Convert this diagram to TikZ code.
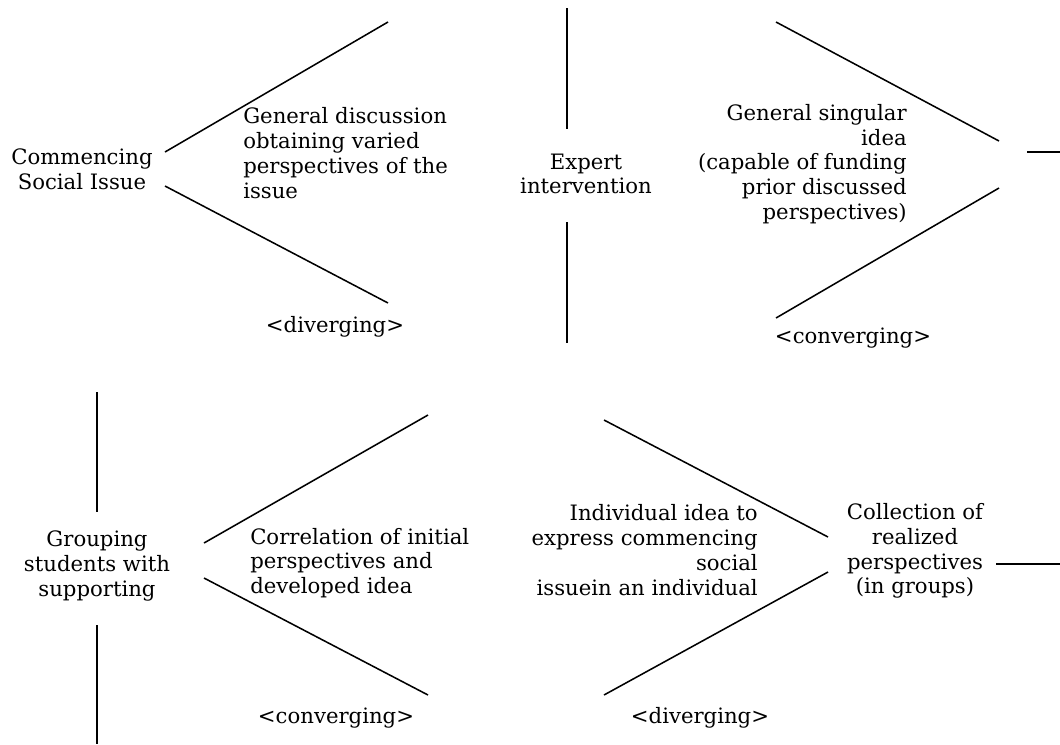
\documentclass[tikz,border=0pt]{standalone}
\usepackage{fontspec}
\setmainfont{DejaVu Serif}
\begin{document}
\begin{tikzpicture}[x=0.75pt,y=-0.75pt,
  ln/.style={line width=1.15pt, line cap=butt},
  txt/.style={inner sep=0pt, font=\fontsize{15.9}{18.6}\selectfont},
  ctr/.style={txt, align=center},
  lft/.style={txt, align=left, anchor=west},
  rgt/.style={txt, align=right, anchor=east}]
\useasboundingbox (0,0) rectangle (1060,744);

% ---- top row ----
\node[ctr] (comm) at (82,169) {Commencing\\Social Issue};
\node[lft] (gd) at (243,153) {General discussion\\obtaining varied\\perspectives of the\\issue};
\node[ctr] (div1) at (335,327) {<diverging>};
\node[ctr] (expert) at (586,174) {Expert\\intervention};
\node[rgt] (gsi) at (907,164) {General singular\\idea\\(capable of funding\\prior discussed\\perspectives)};
\node[ctr] (conv1) at (853,338) {<converging>};

\coordinate (a1) at (165,152);
\coordinate (a2) at (388,22);
\coordinate (a3) at (165,186);
\coordinate (a4) at (388,303);
\draw[ln] (a1) -- (a2);
\draw[ln] (a3) -- (a4);

\coordinate (e1) at (567,8);
\coordinate (e2) at (567,129);
\coordinate (e3) at (567,222);
\coordinate (e4) at (567,343);
\draw[ln] (e1) -- (e2);
\draw[ln] (e3) -- (e4);

\coordinate (b1) at (776,22);
\coordinate (b2) at (999,141);
\coordinate (b3) at (999,188);
\coordinate (b4) at (776,318);
\coordinate (b5) at (1027,152);
\coordinate (b6) at (1060,152);
\draw[ln] (b1) -- (b2);
\draw[ln] (b3) -- (b4);
\draw[ln] (b5) -- (b6);

% ---- bottom row ----
\node[ctr] (group) at (97,566) {Grouping\\students with\\supporting};
\node[lft] (corr) at (250,563) {Correlation of initial\\perspectives and\\developed idea};
\node[ctr] (conv2) at (336,718) {<converging>};
\node[rgt] (indiv) at (758,550) {Individual idea to\\express commencing\\social\\issuein an individual};
\node[ctr] (div2) at (700,718) {<diverging>};
\node[ctr] (coll) at (915,551) {Collection of\\realized\\perspectives\\(in groups)};

\coordinate (g1) at (97,392);
\coordinate (g2) at (97,512);
\coordinate (g3) at (97,625);
\coordinate (g4) at (97,744);
\draw[ln] (g1) -- (g2);
\draw[ln] (g3) -- (g4);

\coordinate (c1) at (204,543);
\coordinate (c2) at (428,415);
\coordinate (c3) at (204,578);
\coordinate (c4) at (428,695);
\draw[ln] (c1) -- (c2);
\draw[ln] (c3) -- (c4);

\coordinate (d1) at (604,420);
\coordinate (d2) at (828,537);
\coordinate (d3) at (828,572);
\coordinate (d4) at (604,695);
\coordinate (d5) at (996,564);
\coordinate (d6) at (1060,564);
\draw[ln] (d1) -- (d2);
\draw[ln] (d3) -- (d4);
\draw[ln] (d5) -- (d6);
\end{tikzpicture}
\end{document}
